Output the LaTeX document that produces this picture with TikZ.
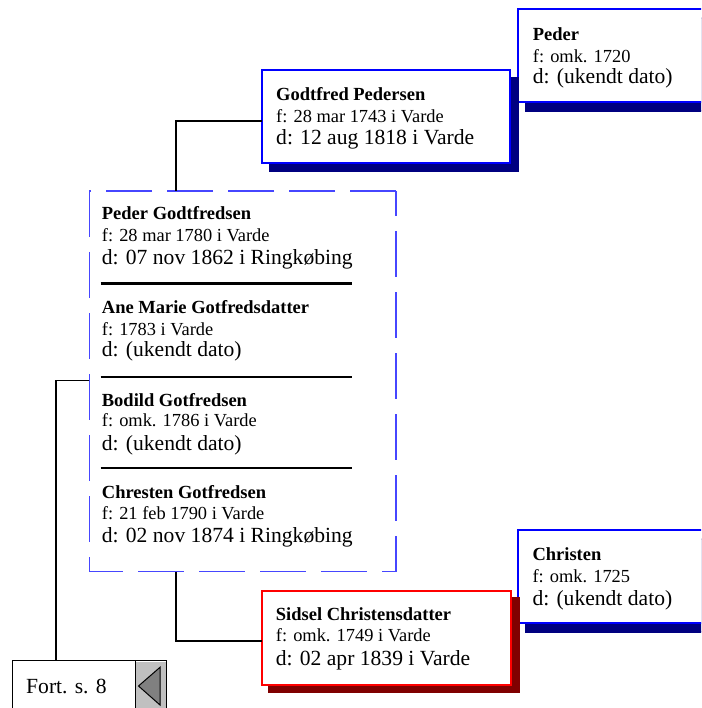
\documentclass[tikz,border=0pt]{standalone}
\usepackage{fontspec}
\setmainfont{Liberation Serif}
\usetikzlibrary{shadows}
\definecolor{bbord}{RGB}{0,0,255}
\definecolor{bshad}{RGB}{0,0,128}
\definecolor{rbord}{RGB}{255,0,0}
\definecolor{rshad}{RGB}{128,0,0}
\definecolor{dashblue}{RGB}{70,70,255}
\definecolor{lgray}{RGB}{192,192,192}
\definecolor{mgray}{RGB}{128,128,128}
\begin{document}
\begin{tikzpicture}[x=1pt,y=-1pt,
  bluebox/.style={draw=bbord,line width=2pt,fill=white,inner sep=0pt,outer sep=0pt,anchor=north west,
    general shadow={fill=bshad,draw=bshad,shadow xshift=8pt,shadow yshift=-8.5pt}},
  redbox/.style={draw=rbord,line width=2pt,fill=white,inner sep=0pt,outer sep=0pt,anchor=north west,
    general shadow={fill=rshad,draw=rshad,shadow xshift=7.5pt,shadow yshift=-7.5pt}},
  nm/.style={inner sep=0pt,anchor=base west,font=\fontsize{18.5}{22}\selectfont\bfseries},
  fl/.style={inner sep=0pt,anchor=base west,font=\fontsize{18.4}{22}\selectfont},
  dl/.style={inner sep=0pt,anchor=base west,font=\fontsize{21.6}{26}\selectfont},
  conn/.style={draw=black,line width=1.5pt},
  dashedge/.style={draw=dashblue,line width=1.2pt,dash pattern=on 46pt off 15pt},
]
\useasboundingbox (0,0) rectangle (701,708);
\clip (0,0) rectangle (701,708);
\fill[white] (0,0) rectangle (701,708);

% Peder (top right)
\node[bluebox,minimum width=200pt,minimum height=93pt] (peder) at (518.3,9.5) {};
\node[nm] (pederN) at (532.7,40.5) {Peder};
\node[fl] (pederF) at (532.7,62.5) {f: omk. 1720};
\node[dl] (pederD) at (532.7,84) {d: (ukendt dato)};

% Godtfred Pedersen
\node[bluebox,minimum width=248pt,minimum height=93pt] (godt) at (262,70) {};
\node[nm] (godtN) at (276,100.7) {Godtfred Pedersen};
\node[fl] (godtF) at (276,122.7) {f: 28 mar 1743 i Varde};
\node[dl] (godtD) at (276,145) {d: 12 aug 1818 i Varde};

% Christen
\node[bluebox,minimum width=200pt,minimum height=93pt] (chr) at (518.3,530) {};
\node[nm] (chrN) at (532.3,560.7) {Christen};
\node[fl] (chrF) at (532.3,582.7) {f: omk. 1725};
\node[dl] (chrD) at (532.3,605) {d: (ukendt dato)};

% Sidsel Christensdatter
\node[redbox,minimum width=249.3pt,minimum height=94pt] (sid) at (261.7,590.7) {};
\node[nm] (sidN) at (275.7,620.7) {Sidsel Christensdatter};
\node[fl] (sidF) at (275.7,641.7) {f: omk. 1749 i Varde};
\node[dl] (sidD) at (275.7,665) {d: 02 apr 1839 i Varde};

% Family (dashed) box
\node[inner sep=0pt,outer sep=0pt,anchor=north west,minimum width=306.7pt,minimum height=380.7pt] (fam) at (89.3,191) {};
\draw[dashedge] (fam.north east) -- (fam.north west);
\draw[dashedge,dash phase=21pt] (fam.north east) -- (fam.south east);
\draw[dashedge,dash phase=12pt] (fam.south west) -- (fam.south east);
\draw[dashedge] (fam.north west) -- (fam.south west);

\node[nm] (c1N) at (101.7,219.3) {Peder Godtfredsen};
\node[fl] (c1F) at (101.7,241.7) {f: 28 mar 1780 i Varde};
\node[dl] (c1D) at (101.7,264) {d: 07 nov 1862 i Ringkøbing};
\draw[line width=3.5pt] (100.7,283.3) -- (351.7,283.3);

\node[nm] (c2N) at (101.7,313.3) {Ane Marie Gotfredsdatter};
\node[fl] (c2F) at (101.7,335) {f: 1783 i Varde};
\node[dl] (c2D) at (101.7,356.7) {d: (ukendt dato)};
\draw[line width=2pt] (100.7,376.7) -- (351.7,376.7);

\node[nm] (c3N) at (101.7,406) {Bodild Gotfredsen};
\node[fl] (c3F) at (101.7,426.5) {f: omk. 1786 i Varde};
\node[dl] (c3D) at (101.7,450) {d: (ukendt dato)};
\draw[line width=2pt] (100.7,468.3) -- (351.7,468.3);

\node[nm] (c4N) at (101.7,498.3) {Chresten Gotfredsen};
\node[fl] (c4F) at (101.7,519.3) {f: 21 feb 1790 i Varde};
\node[dl] (c4D) at (101.7,542.7) {d: 02 nov 1874 i Ringkøbing};

% Fort. s. 8 box
\node[draw=black,line width=1.5pt,inner sep=0pt,outer sep=0pt,anchor=north west,minimum width=154.4pt,minimum height=70pt] (fort) at (12.3,660.7) {};
\fill[lgray] (135,661.5) rectangle (166,720);
\draw[line width=1pt] (135,660.7) -- (135,720);
\draw[line width=1.5pt] (fort.north west) rectangle (fort.south east);
\node[dl] (fortT) at (26,693) {Fort. s. 8};
\draw[line width=1pt,fill=mgray] (138.5,686) -- (160,667.3) -- (160,705) -- cycle;

% Connectors
\coordinate (jA) at (176,121);
\draw[conn] (godt.west |- jA) -- (jA) -- (jA |- fam.north);
\coordinate (jB) at (176,641);
\draw[conn] (jB |- fam.south) -- (jB) -- (sid.west |- jB);
\coordinate (jC) at (56,380.7);
\draw[conn] (fam.west |- jC) -- (jC) -- (jC |- fort.north);
\end{tikzpicture}
\end{document}
